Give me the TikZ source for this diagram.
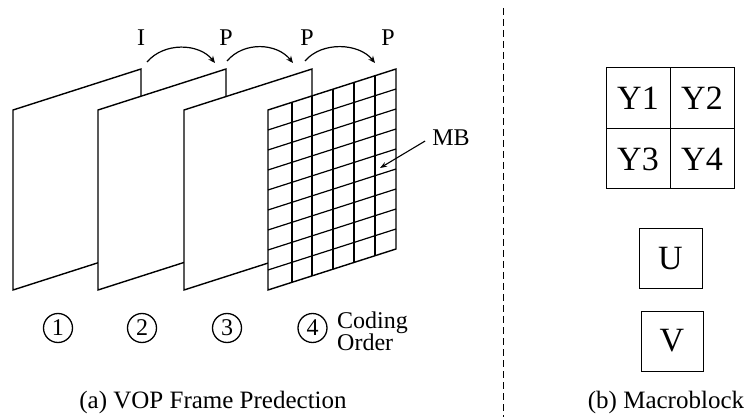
\documentclass[tikz,border=0pt]{standalone}
\usepackage{fontspec}
\setmainfont{Liberation Serif}
\usetikzlibrary{arrows.meta}
\begin{document}
\begin{tikzpicture}[x=1pt,y=-1pt,
  vop/.style={draw,fill=white,line width=1.4pt,line join=miter},
  gridline/.style={line width=1.2pt},
  predarc/.style={line width=1.2pt,-{Stealth[length=7pt,width=6pt]}},
  mbarrow/.style={line width=1.1pt,-{Stealth[length=7pt,width=5pt]}},
  lbl/.style={font=\fontsize{24}{28}\selectfont,inner sep=0pt},
  circnum/.style={draw,circle,line width=1.3pt,minimum size=29pt,inner sep=0pt,font=\fontsize{24}{26}\selectfont},
  blk/.style={draw,line width=1pt,inner sep=0pt,font=\fontsize{34}{36}\selectfont},
  captext/.style={anchor=base,inner sep=0pt,font=\fontsize{25}{30}\selectfont}
]
\useasboundingbox (0,0) rectangle (748,417);
% frames
\foreach \L in {13,98,184,268}{
  \draw[vop] (\L,110) -- (\L+128,69) -- (\L+128,249) -- (\L,290) -- cycle;
}
% grid on frame 4
\foreach \x in {292,312,333,354,375}{
  \draw[gridline] (\x,{110-(\x-268)*41/128}) -- ++(0,180);
}
\foreach \k in {1,...,8}{
  \draw[gridline] (268,110+\k*20) -- (396,69+\k*20);
}
% prediction arcs
\coordinate (s1) at (147,62); \coordinate (e1) at (215,63);
\coordinate (s2) at (227,61); \coordinate (e2) at (293,63);
\coordinate (s3) at (305,61); \coordinate (e3) at (375,63);
\draw[predarc] (s1) .. controls +(17,-20) and +(-16,-20) .. (e1);
\draw[predarc] (s2) .. controls +(17,-20) and +(-16,-20) .. (e2);
\draw[predarc] (s3) .. controls +(17,-20) and +(-16,-20) .. (e3);
\node[lbl] (li) at (141,38) {I};
\node[lbl] (lp1) at (226,38) {P};
\node[lbl] (lp2) at (307,38) {P};
\node[lbl] (lp3) at (388,38) {P};
% MB
\node[lbl] (mb) at (451,138) {MB};
\coordinate (mbt) at (380,168);
\draw[mbarrow] ([shift={(-7,3)}]mb.west) -- (mbt);
% coding order
\node[circnum] (c1) at (58,328) {1};
\node[circnum] (c2) at (142,328) {2};
\node[circnum] (c3) at (227,328) {3};
\node[circnum] (c4) at (312.5,328) {4};
\node[lbl,anchor=base west] (co1) at (337,328) {Coding};
\node[lbl,anchor=base west] (co2) at (337,350) {Order};
% captions
\node[captext] (capa) at (213,408) {(a) VOP Frame Predection};
\node[captext] (capb) at (666,408) {(b) Macroblock};
% divider
\coordinate (dt) at (503,8); \coordinate (db) at (503,417);
\draw[line width=0.9pt,dash pattern=on 7pt off 4pt] (dt) -- (db);
% macroblock
\node[blk,minimum width=64pt,minimum height=61pt] (y1) at (638,98.5) {Y1};
\node[blk,minimum width=64pt,minimum height=61pt] (y2) at (702,98.5) {Y2};
\node[blk,minimum width=64pt,minimum height=60pt] (y3) at (638,159) {Y3};
\node[blk,minimum width=64pt,minimum height=60pt] (y4) at (702,159) {Y4};
\node[blk,minimum width=63pt,minimum height=60pt] (u) at (670.5,259) {U};
\node[blk,minimum width=62pt,minimum height=60pt] (v) at (672,341) {V};
\end{tikzpicture}
\end{document}
